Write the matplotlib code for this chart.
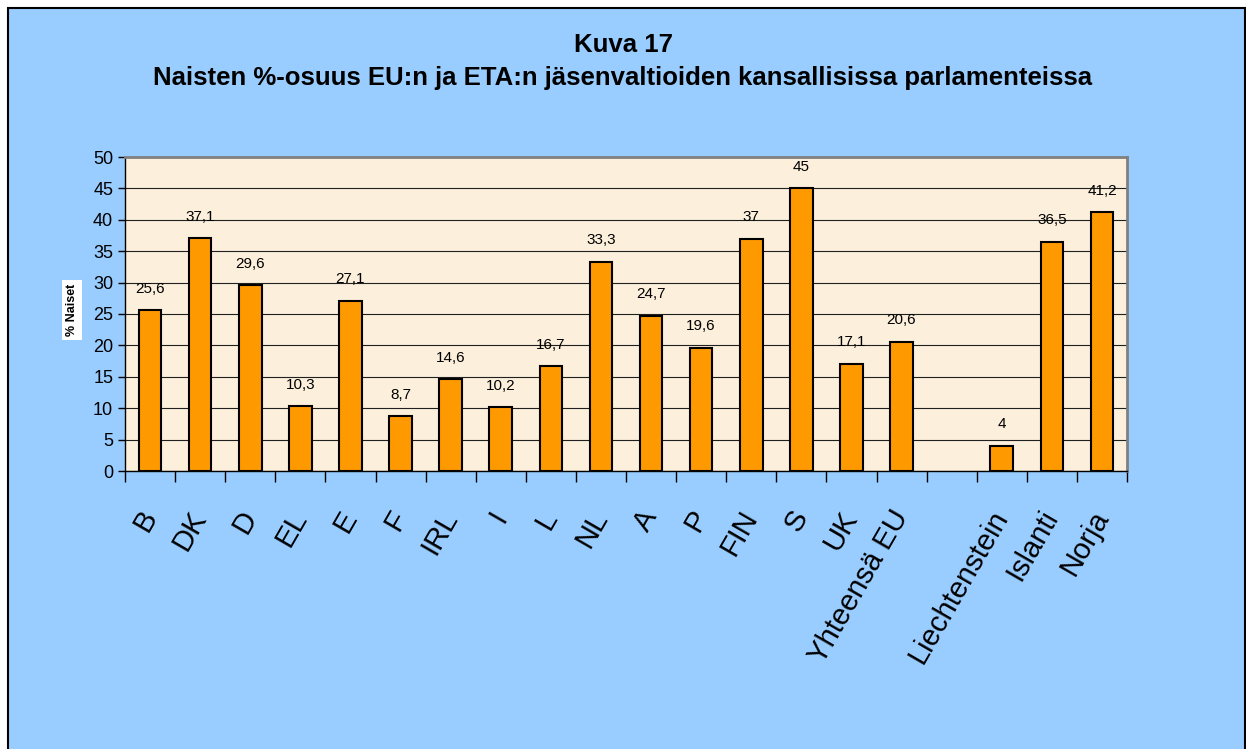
import matplotlib.pyplot as plt
import matplotlib.patches as patches

maat = ["B", "DK", "D", "EL", "E", "F", "IRL", "I", "L", "NL", "A", "P", "FIN", "S", "UK",
        "Yhteensä EU", "", "Liechtenstein", "Islanti", "Norja"]
naiset = [25.6, 37.1, 29.6, 10.3, 27.1, 8.7, 14.6, 10.2, 16.7, 33.3, 24.7, 19.6, 37, 45, 17.1,
          20.6, None, 4, 36.5, 41.2]
arvot = ["25,6", "37,1", "29,6", "10,3", "27,1", "8,7", "14,6", "10,2", "16,7", "33,3", "24,7",
         "19,6", "37", "45", "17,1", "20,6", "", "4", "36,5", "41,2"]

plt.rcParams['font.family'] = ['Liberation Sans', 'DejaVu Sans']

fig = plt.figure(figsize=(12.46, 7.49), dpi=100, facecolor="white")
fig.patches.append(patches.Rectangle((8 / 1246, -0.01), 1237 / 1246, 1 - 8 / 749 + 0.01,
                                     transform=fig.transFigure, facecolor="#99CCFF",
                                     edgecolor="black", linewidth=1.5, zorder=-10))

ax = fig.add_axes([125 / 1246, 1 - 471 / 749, 1002 / 1246, 314 / 749])
ax.set_facecolor("#FCF0DC")

x = list(range(len(maat)))
for i, v in enumerate(naiset):
    if v is None:
        continue
    ax.bar(i, v, width=0.45, color="#FF9900", edgecolor="black", linewidth=1.5, zorder=3)
    ax.text(i, v + 2.3, arvot[i], ha="center", va="bottom", fontsize=11)

ax.set_xlim(-0.5, len(maat) - 0.5)
ax.set_ylim(0, 50)
ax.set_yticks(range(0, 51, 5))
ax.yaxis.grid(True, color="#202020", linewidth=0.8, zorder=1)
ax.set_axisbelow(True)
ax.tick_params(axis="y", labelsize=13, length=5, width=1, direction="out")

ax.set_xticks(x)
ax.set_xticklabels(maat, rotation=60, ha="right", va="center", rotation_mode="anchor", fontsize=21)
ax.tick_params(axis="x", which="major", length=0, pad=30)
ax.set_xticks([i - 0.5 for i in range(len(maat) + 1)], minor=True)
ax.tick_params(axis="x", which="minor", length=8, width=1)

for s in ["top", "right"]:
    ax.spines[s].set_color("#808080")
    ax.spines[s].set_linewidth(2)
for s in ["left", "bottom"]:
    ax.spines[s].set_color("black")
    ax.spines[s].set_linewidth(1)

fig.text(0.5, 1 - 45 / 749, "Kuva 17", ha="center", va="center", fontsize=18.5, fontweight="bold")
fig.text(0.5, 1 - 78 / 749,
         "Naisten %-osuus EU:n ja ETA:n jäsenvaltioiden kansallisissa parlamenteissa",
         ha="center", va="center", fontsize=18.5, fontweight="bold")

fig.text(72 / 1246, 1 - 310 / 749, "% Naiset", rotation=90, ha="center", va="center",
         fontsize=9, fontweight="bold",
         bbox=dict(facecolor="white", edgecolor="none", pad=3))

fig.savefig("out.png", dpi=100)
